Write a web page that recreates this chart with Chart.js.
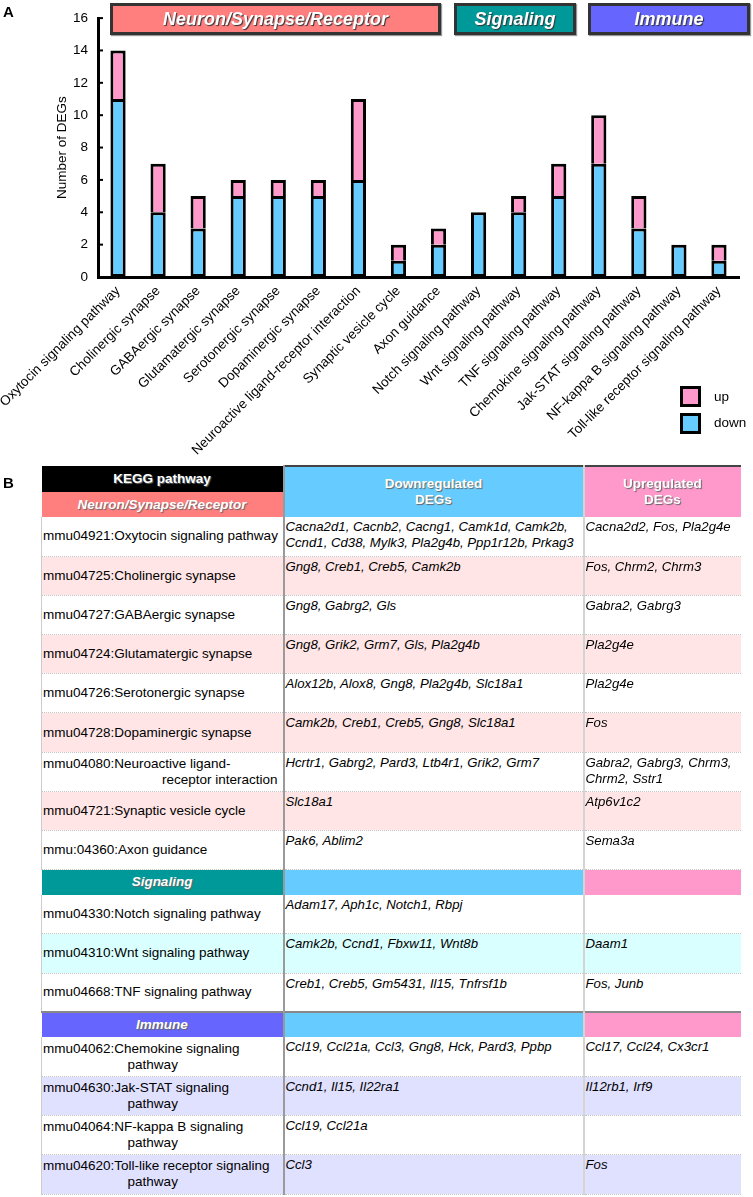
<!DOCTYPE html>
<html>
<head>
<meta charset="utf-8">
<script src="https://cdn.jsdelivr.net/npm/chart.js@4.4.0/dist/chart.umd.min.js"></script>
<style>
body{margin:0;background:#fff;font-family:Arial,"Liberation Sans",sans-serif;color:#000;}
#page{position:relative;width:753px;height:1197px;overflow:hidden;}
#chart{position:absolute;left:0;top:0;}
.panel{position:absolute;font-weight:bold;font-size:15px;}
.banner{position:absolute;top:3px;height:32px;box-sizing:border-box;border:3px solid #333;color:#fff;
  font-weight:bold;font-style:italic;font-size:18px;line-height:26px;text-align:center;
  text-shadow:1px 1px 1px #333;box-shadow:1px 1px 1px #999;}
.lbox{position:absolute;left:680px;width:21px;height:21px;box-sizing:border-box;border:3px solid #000;}
.ltxt{position:absolute;left:714px;font-size:13.5px;line-height:16px;}
#tbl{position:absolute;left:41px;top:465px;width:699px;border-collapse:collapse;table-layout:fixed;font-size:13.5px;}
#tbl td{padding:0;overflow:hidden;}
#tbl td.hd{color:#fff;font-weight:bold;text-align:center;text-shadow:1px 1px 1px #666;line-height:16px;}
#tbl td.grp{font-style:italic;}
#tbl tr.row td{border-bottom:1px dotted #c4c4c4;vertical-align:top;}
#tbl td.name{vertical-align:middle !important;padding-left:1px;line-height:16px;border-left:1px solid #ccc;}
#tbl td.genes{font-style:italic;font-size:13.2px;line-height:16px;padding:2px 0 0 1px;}
#tbl td.c1{border-right:2px solid #9a9a9a;}
#tbl td.c2{border-right:2px solid #d4d4d4;}
</style>
</head>
<body>
<div id="page">
  <canvas id="chart" width="753" height="462"></canvas>
  <div class="panel" style="left:3px;top:3px;">A</div>
  <div class="panel" style="left:3px;top:474px;">B</div>
  <div class="banner" style="left:110px;width:331px;background:#FF7F7F;">Neuron/Synapse/Receptor</div>
  <div class="banner" style="left:454px;width:122px;background:#009999;">Signaling</div>
  <div class="banner" style="left:588px;width:162px;background:#6666FF;">Immune</div>
  <div class="lbox" style="top:386px;background:#FF99CC;"></div>
  <div class="lbox" style="top:413px;background:#66CCFF;"></div>
  <div class="ltxt" style="top:389px;">up</div>
  <div class="ltxt" style="top:415px;">down</div>
  <table id="tbl">
    <colgroup><col style="width:242px"><col style="width:300px"><col style="width:157px"></colgroup>
    <tbody id="tbody"></tbody>
  </table>
</div>
<script>
// bar chart data
const categories = [
  'Oxytocin signaling pathway', 'Cholinergic synapse', 'GABAergic synapse',
  'Glutamatergic synapse', 'Serotonergic synapse', 'Dopaminergic synapse',
  'Neuroactive ligand-receptor interaction', 'Synaptic vesicle cycle', 'Axon guidance',
  'Notch signaling pathway', 'Wnt signaling pathway', 'TNF signaling pathway',
  'Chemokine signaling pathway', 'Jak-STAT signaling pathway',
  'NF-kappa B signaling pathway', 'Toll-like receptor signaling pathway'
];
const downCounts = [11, 4, 3, 5, 5, 5, 6, 1, 2, 4, 4, 5, 7, 3, 2, 1];
const upCounts   = [3, 3, 2, 1, 1, 1, 5, 1, 1, 0, 1, 2, 3, 2, 0, 1];
const yMax = 16;
const yStep = 2;

// table data: [pathway (| = line break), downregulated, upregulated]
const neuronRows = [
  ['mmu04921:Oxytocin signaling pathway', ['Cacna2d1','Cacnb2','Cacng1','Camk1d','Camk2b','Ccnd1','Cd38','Mylk3','Pla2g4b','Ppp1r12b','Prkag3'], ['Cacna2d2','Fos','Pla2g4e']],
  ['mmu04725:Cholinergic synapse', ['Gng8','Creb1','Creb5','Camk2b'], ['Fos','Chrm2','Chrm3']],
  ['mmu04727:GABAergic synapse', ['Gng8','Gabrg2','Gls'], ['Gabra2','Gabrg3']],
  ['mmu04724:Glutamatergic synapse', ['Gng8','Grik2','Grm7','Gls','Pla2g4b'], ['Pla2g4e']],
  ['mmu04726:Serotonergic synapse', ['Alox12b','Alox8','Gng8','Pla2g4b','Slc18a1'], ['Pla2g4e']],
  ['mmu04728:Dopaminergic synapse', ['Camk2b','Creb1','Creb5','Gng8','Slc18a1'], ['Fos']],
  ['mmu04080:Neuroactive ligand-|receptor interaction', ['Hcrtr1','Gabrg2','Pard3','Ltb4r1','Grik2','Grm7'], ['Gabra2','Gabrg3','Chrm3','Chrm2','Sstr1']],
  ['mmu04721:Synaptic vesicle cycle', ['Slc18a1'], ['Atp6v1c2']],
  ['mmu:04360:Axon guidance', ['Pak6','Ablim2'], ['Sema3a']]
];
const signalingRows = [
  ['mmu04330:Notch signaling pathway', ['Adam17','Aph1c','Notch1','Rbpj'], []],
  ['mmu04310:Wnt signaling pathway', ['Camk2b','Ccnd1','Fbxw11','Wnt8b'], ['Daam1']],
  ['mmu04668:TNF signaling pathway', ['Creb1','Creb5','Gm5431','Il15','Tnfrsf1b'], ['Fos','Junb']]
];
const immuneRows = [
  ['mmu04062:Chemokine signaling|pathway', ['Ccl19','Ccl21a','Ccl3','Gng8','Hck','Pard3','Ppbp'], ['Ccl17','Ccl24','Cx3cr1']],
  ['mmu04630:Jak-STAT signaling|pathway', ['Ccnd1','Il15','Il22ra1'], ['Il12rb1','Irf9']],
  ['mmu04064:NF-kappa B signaling|pathway', ['Ccl19','Ccl21a'], []],
  ['mmu04620:Toll-like receptor signaling|pathway', ['Ccl3'], ['Fos']]
];
const groups = [
  ['Neuron/Synapse/Receptor', '#FF7F7F', '#FFE5E5', neuronRows],
  ['Signaling', '#009999', '#D9FFFF', signalingRows],
  ['Immune', '#6666FF', '#E0E0FF', immuneRows]
];

const BLUE = '#66CCFF', PINK = '#FF99CC';
const FONT = {family: 'Arial, "Liberation Sans", sans-serif', size: 13.5};

/* small inward tick marks on the y axis */
const innerTicks = {
  id: 'innerTicks',
  afterDraw(chart) {
    const y = chart.scales.y, ctx = chart.ctx, left = chart.chartArea.left;
    ctx.save();
    ctx.strokeStyle = '#000';
    ctx.lineWidth = 2;
    y.ticks.forEach(function (t) {
      const py = y.getPixelForValue(t.value);
      ctx.beginPath();
      ctx.moveTo(left, py);
      ctx.lineTo(left + 5, py);
      ctx.stroke();
    });
    ctx.restore();
  }
};

new Chart(document.getElementById('chart'), {
  type: 'bar',
  data: {
    labels: categories,
    datasets: [
      {label: 'down', data: downCounts, backgroundColor: BLUE, borderColor: '#000', borderWidth: 3, borderSkipped: false},
      {label: 'up', data: upCounts, backgroundColor: PINK, borderColor: '#000', borderWidth: 3, borderSkipped: 'bottom'}
    ]
  },
  options: {
    responsive: false,
    devicePixelRatio: 1,
    animation: false,
    layout: {padding: {top: 18, right: 14, left: 0, bottom: 0}},
    datasets: {bar: {barPercentage: 0.38, categoryPercentage: 1}},
    plugins: {legend: {display: false}, tooltip: {enabled: false}},
    scales: {
      x: {
        stacked: true,
        grid: {display: false, drawTicks: false},
        border: {display: true, color: '#000', width: 3},
        ticks: {color: '#000', font: FONT, autoSkip: false, maxRotation: 45, minRotation: 45, padding: 6},
        afterFit(s) { s.height = 185; s.paddingLeft = 0; s.paddingRight = 0; }
      },
      y: {
        stacked: true,
        min: 0,
        max: yMax,
        grid: {display: false, drawTicks: false},
        border: {display: true, color: '#000', width: 3},
        ticks: {stepSize: yStep, color: '#000', font: FONT, padding: 10},
        title: {display: true, text: 'Number of DEGs', color: '#000', font: FONT, padding: {top: 54, bottom: 0}},
        afterFit(s) { s.width = 98; }
      }
    }
  },
  plugins: [innerTicks]
});

/* TABLE */
const tbody = document.getElementById('tbody');
function cell(tr, cls, html, style) {
  const td = document.createElement('td');
  td.className = cls;
  td.innerHTML = html;
  if (style) td.setAttribute('style', style);
  tr.appendChild(td);
  return td;
}
function geneList(list) {
  return list.map(function (g) { return '<i>' + g + '</i>'; }).join(', ');
}
function nameHtml(name) {
  const parts = name.split('|');
  if (parts.length === 1) return parts[0];
  const al = parts[1] === 'pathway' ? 'text-align:center;padding-right:20px' : 'text-align:right;padding-right:5px';
  return '<div>' + parts[0] + '</div><div style="' + al + '">' + parts[1] + '</div>';
}

let tr = document.createElement('tr');
tr.style.height = '26px';
cell(tr, 'hd c1', 'KEGG pathway', 'background:#000;');
let td = cell(tr, 'hd c2', 'Downregulated<br>DEGs', 'background:' + BLUE + ';border-top:2px solid #444;');
td.rowSpan = 2;
td = cell(tr, 'hd', 'Upregulated<br>DEGs', 'background:' + PINK + ';border-top:2px solid #444;');
td.rowSpan = 2;
tbody.appendChild(tr);

groups.forEach(function (g, gi) {
  tr = document.createElement('tr');
  tr.style.height = '25px';
  const top = gi === 2 ? 'border-top:2px solid #888;' : '';
  cell(tr, 'hd grp c1', g[0], 'background:' + g[1] + ';' + top);
  if (gi > 0) {
    cell(tr, 'hd c2', '', 'background:' + BLUE + ';' + top);
    cell(tr, 'hd', '', 'background:' + PINK + ';' + top);
  }
  tbody.appendChild(tr);
  g[3].forEach(function (r, ri) {
    tr = document.createElement('tr');
    tr.className = 'row';
    tr.style.height = '39.2px';
    tr.style.background = ri % 2 === 1 ? g[2] : '#fff';
    cell(tr, 'name c1', nameHtml(r[0]));
    cell(tr, 'genes c2', geneList(r[1]));
    cell(tr, 'genes', geneList(r[2]));
    tbody.appendChild(tr);
  });
});
</script>
</body>
</html>
